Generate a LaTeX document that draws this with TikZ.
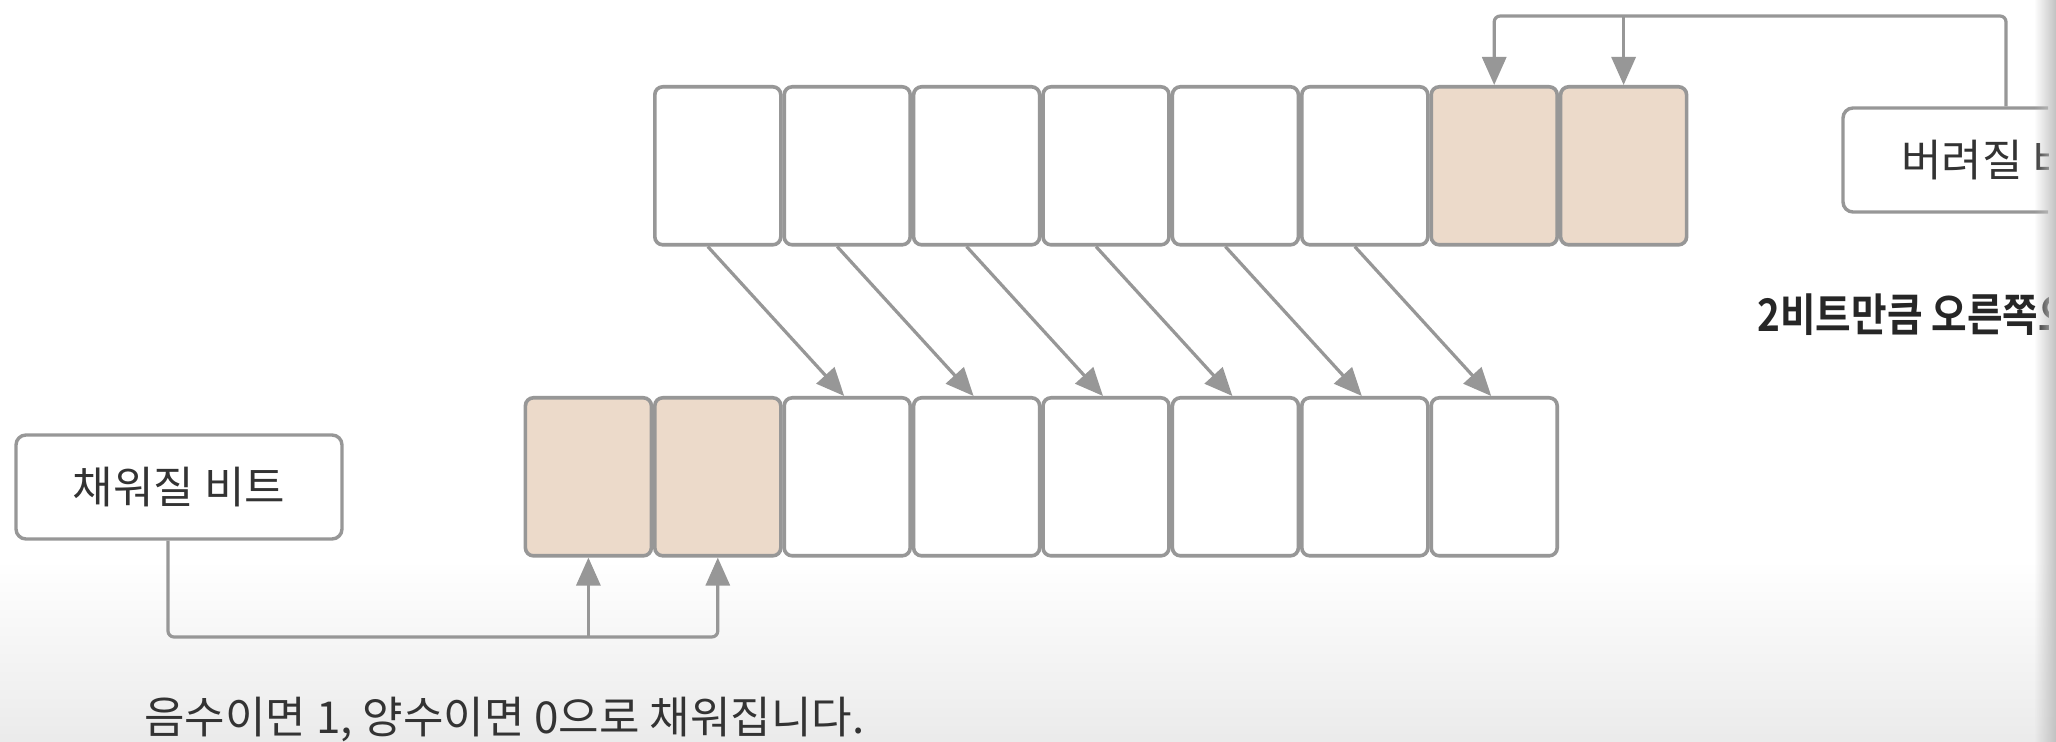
\documentclass[tikz,border=0pt]{standalone}
\usepackage{fontspec}
\setmainfont{Noto Sans CJK KR}
\newfontfamily\boldnarrow[FakeStretch=0.86]{Noto Sans CJK KR Bold}
\usetikzlibrary{arrows.meta,fadings}
\definecolor{edge}{HTML}{979797}
\definecolor{peach}{HTML}{ECDACA}
\definecolor{txt}{HTML}{333333}
\tikzfading[name=fadeR, left color=transparent!100, right color=transparent!0]
\tikzset{
  cell/.style={draw=edge, line width=1.8pt, rounded corners=4pt, minimum width=63pt,
    minimum height=79pt, inner sep=0pt, anchor=north west, fill=white},
  hot/.style={cell, fill=peach},
  conn/.style={draw=edge, line width=1.6pt, -{Triangle[length=14pt,width=12pt]}},
  lbl/.style={draw=edge, line width=1.7pt, rounded corners=5pt, minimum width=163pt,
    minimum height=52pt, fill=white, inner sep=0pt, font=\fontsize{22}{26}\selectfont, text=txt},
  caption/.style={inner sep=0pt, font=\fontsize{22}{26}\selectfont, text=txt},
}
\begin{document}
\begin{tikzpicture}[x=0.5pt, y=-0.5pt]
\useasboundingbox (0,0) rectangle (2056,742);
\fill[white] (0,0) rectangle (2056,742);
\shade[top color=white, bottom color=gray!16] (0,560) rectangle (2056,742);
\begin{scope}
\clip (0,0) rectangle (2048,742);
% top row
\foreach \i in {1,...,6} {
  \node[cell] (t\i) at ({653+(\i-1)*129.4},85) {};
}
\node[hot] (t7) at ({653+6*129.4},85) {};
\node[hot] (t8) at ({653+7*129.4},85) {};
% bottom row
\node[hot] (b1) at (523.6,396) {};
\node[hot] (b2) at ({523.6+129.4},396) {};
\foreach \i in {3,...,8} {
  \node[cell] (b\i) at ({523.6+(\i-1)*129.4},396) {};
}
% shift arrows
\foreach \i [evaluate=\i as \j using int(\i+2)] in {1,...,6} {
  \draw[conn] ([xshift=-5pt]t\i.south) -- ([xshift=-1.5pt]b\j.north);
}
% discarded bits box
\node[lbl] (lost) at (2006,160) {};
\node[caption, anchor=west] (losttxt) at (1901,160) {버려질 비};
\coordinate (tb) at (2006,16);
\draw[conn, rounded corners=3pt] (lost.north) |- (t7.north |- tb) -- (t7.north);
\draw[conn] (t8.north |- tb) -- (t8.north);
% filled bits box
\node[lbl] (fill) at (179,487) {채워질 비트};
\coordinate (fb) at (168,637);
\draw[conn, rounded corners=3pt] (fill.south -| fb) |- (b2.south |- fb) -- (b2.south);
\draw[conn] (b1.south |- fb) -- (b1.south);
% texts
\node[caption, anchor=west, font=\fontsize{22.5}{26}\boldnarrow, text=black!85] (shift) at (1757,315) {2비트만큼 오른쪽으};
\node[caption, anchor=base west] (note) at (144,733) {음수이면 1, 양수이면 0으로 채워집니다.};
\end{scope}
\fill[black!24, path fading=fadeR] (2034,0) rectangle (2056,742);
\end{tikzpicture}
\end{document}
